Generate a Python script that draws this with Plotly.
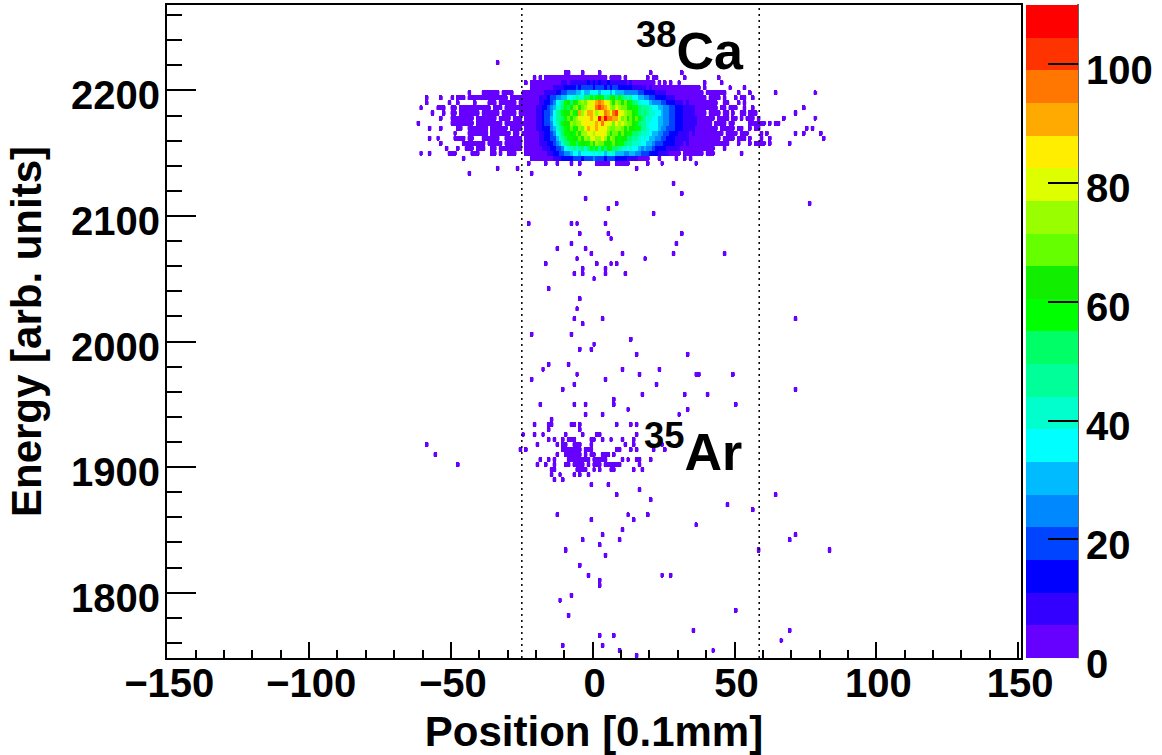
import plotly.graph_objects as go

FONT = "Liberation Sans"
X_TICKS = [-150, -100, -50, 0, 50, 100, 150]
BAR_TICKS = [0, 20, 40, 60, 80, 100]
X_FIRST, X_COUNT = -151, 303
E_FIRST, E_WIDTH, E_COUNT = 1748, 4, 130
Z_MAX = 110
BAND_COLORS = ["#6600ff", "#3300ff", "#0000ff", "#0044ff", "#0088ff", "#00bbff", "#00ffff",
               "#00ffcc", "#00ff99", "#00ff66", "#00ff00", "#11ee00", "#66ff00", "#99ff00",
               "#ddff00", "#ffee00", "#ffaa00", "#ff7700", "#ff3300", "#ff0000"]
CUT_LOW, CUT_HIGH = -25, 58.7

# Occupied bins at the lowest colour band: energy-bin index -> x bins ("a:b" = run)
LOW_BINS = {
    0: "15", 1: "9 42", 2: "-11 3", 3: "66", 4: "2 7", 5: "35 69", 8: "-9", 9: "50", 11: "-12",
    12: "-8", 14: "2", 15: "2", 16: "-2 24 27", 18: "-5", 20: "4", 21: "-10 58 83", 22: "2",
    23: "-4 9 69", 24: "3 71", 25: "10", 26: "36", 27: "-1 14", 28: "-13 12 19", 29: "56",
    30: "47", 31: "20", 32: "8 64", 33: "16", 34: "-1 5", 35: "-14 -11",
    36: "-15 -12 -7 -5 -2",
    37: "-15 -14 -6:-4 -3 0 2 6 7 14 17",
    38: "-48 -20 -17 -14 -10 -9 -7:-4 -2 0:2 4:9 16",
    39: "-19 -16 -14 -9:-2 0:4 10 12 15 16 20",
    40: "-56 -13 -10:-5 -3 -1 0 3:5 7",
    41: "-26 -24 -11:-5 -3:-1 8 9 13 15 21 25",
    42: "-59 -20 -13 -11 -10 -7 -6 -5 -1 11 14 24",
    43: "-16 -14 -11 -9 -8 -7 -1 0 3 6 10 14",
    44: "-25 -21 -18 -10 -4 1 2 15",
    45: "-16 -5", 46: "-21 -16 -15 -8 -7 -5 8 13 15", 47: "-15", 48: "-3 3 30", 49: "12 33",
    50: "-19 -7 -3 7 50", 51: "7", 52: "17 32 40", 53: "-11 71", 54: "-7 22", 55: "-22 4",
    56: "-6 16 36 37 49", 57: "-18 10 23", 58: "-16 -9", 60: "15 33", 61: "-5 -1", 62: "0",
    63: "13", 64: "-22 -8", 66: "-4", 67: "-7 3 71", 69: "-6", 71: "-5", 73: "-16", 75: "0",
    76: "-7 -4 4 11", 77: "-4 4", 78: "-17 1 6 8", 79: "-6 18", 80: "-1 10 28 46", 81: "-13 -3",
    82: "-8 29", 83: "6", 84: "-5 5 31", 86: "-23 -8 -6 4", 88: "21", 89: "5", 90: "8 76",
    91: "-3", 92: "31", 94: "28", 96: "-44 -22 -5", 97: "-34 -27 15",
    98: "-23 -17 -13 -8 -5 1:5 8:12 19 24 36",
    99: "-46 -22 -19:-16 -12:19 23 29 32 34",
    100: "-61 -58 -51:-49 -43:-41 -36 -35 -33 -30 -29 -28 -24:-22 -18:30 32:38 40:42 52",
    101: "-52 -48 -45:-43 -41:-39 -36 -35 -33:-31 -30:-28 -27 -26 -24:42 46",
    102: "-54 -46:-43 -42:-39 -37:-33 -31:-26 -24:47 51 55 57:60 62 69",
    103: "-58 -55 -49:-46 -44 -43 -39:-34 -31:-26 -24:44 46:49 51:53 55 59 62 81",
    104: "-49 -44:-38 -36:-30 -28:-27 -25:45 47:50 52:54 59 61 71 74 80",
    105: "-58 -54 -48 -47 -44:-38 -36:-31 -29:-26 -24:43 45:49 51 52 55 57 58 75 77",
    106: "-62 -50 -49 -48:-43 -41:-33 -31:41 43:46 48 49 55:60 62 64 65",
    107: "-54 -50:-43 -41:-35 -33:-30 -28:-26 -24:42 44:47 49 50 52 54:56 58 67 78",
    108: "-57 -53 -50 -49 -47:-41 -39:-34 -32:-28 -26:39 41:44 46 47 49 52 53 55:57 71",
    109: "-61 -55:-53 -50 -49 -47:-37 -35:-33 -31:39 40:43 45 46 48:50 53 56 74",
    110: "-59 -51 -48 -42 -37:-35 -33:-28 -26:39 40:43 46 47 51 53",
    111: "-59 -54 -50 -48:-46 -44:-40 -39:-34 -33:-31 -29:-25 -24:39 41:42 43 44 46 50 52 53 56",
    112: "-44 -39:-34 -32:-30 -29 -25:-23 -22:38 40:44 45 46 51 55 64 78",
    113: "-22 -20:32 33:37 39 48 53",
    114: "-24 -19 -17:21 23 25 27 30 39 45",
    115: "-21 -19 -17:-13 -12:-6 -5:-1 0:2 3 4 6 7 8 9 11 19 21 22 32 44",
    116: "-10 -9 -4 2 20 31",
    118: "-34",
}

# Core of the 38Ca peak: colour band per bin, base 20, first column is x = -22
CORE_FIRST_X = -22
CORE_BANDS = {
    114: "00000 00000 01101 11111 21212 11211 11110 10000",
    113: "00000 00011 11222 23233 33233 32323 32222 21111 10100",
    112: "00000 11112 23344 45565 56665 66656 55544 44433 22221 11100",
    111: "00011 12334 45566 78779 9a9ab a89ab 9a987 86655 44332 22211 10000",
    110: "00011 22346 78ab9 bacdc eefgh gfecb dcbcb a9876 66544 43322 21110 1000",
    109: "00112 23457 79a9b cdbcd eefhi hgfdc edccb baa98 88766 55443 32221 11100",
    108: "00112 33468 8abbc abgde ggfde fhgeh ifedc cba98 98776 65443 32221 11100",
    107: "00112 33568 89acb cdeef fgefj gjhhg gecdb cbca9 87766 55443 32221 11110",
    106: "00112 33467 9abbd cddef fefgf hfeec fdedc cba98 87666 55443 32221 11110",
    105: "00112 22457 89abc abdce gffgf efdcc ddcbc bbaa8 87666 54433 32221 11100",
    104: "00011 22346 79aab acbdd eedfe fecbc cbcba a9987 77655 44332 22111 10100",
    103: "00011 22335 789aa bbcbd cefdd fdbdc babb9 98876 76554 43322 21111 10000",
    102: "00011 12234 5789a a9abb acbdc cbbac baa98 87776 65543 33222 21110 10000",
    101: "00001 11223 34677 87897 9a9a8 a9ba9 98776 76654 54432 22211 11100",
    100: "00000 01122 33445 66566 66767 65767 55544 55443 33222 11110",
    99:  "00000 00011 12222 33323 33433 32333 22221 11100",
}
AR_PEAK_BAND = (40, -3, 1)

z = [[None] * X_COUNT for _ in range(E_COUNT)]
def band_value(band):
    return (band + 0.5) * Z_MAX / len(BAND_COLORS)
low_cells = set()
for row, text in LOW_BINS.items():
    for item in text.split():
        a, _, b = item.partition(":")
        for x in range(int(a), int(b or a) + 1):
            z[row][x - X_FIRST] = band_value(0)
            low_cells.add((row, x))
for row, text in CORE_BANDS.items():
    for i, ch in enumerate(text.replace(" ", "")):
        x = CORE_FIRST_X + i
        z[row][x - X_FIRST] = band_value(int(ch, 20))
        low_cells.discard((row, x))
z[AR_PEAK_BAND[0]][AR_PEAK_BAND[1] - X_FIRST] = band_value(AR_PEAK_BAND[2])

x_centers = [X_FIRST + i + 0.5 for i in range(X_COUNT)]
y_centers = [E_FIRST + (i + 0.5) * E_WIDTH for i in range(E_COUNT)]
E_TOP = E_FIRST + E_COUNT * E_WIDTH

n = len(BAND_COLORS)
colorscale = []
for i, c in enumerate(BAND_COLORS):
    colorscale += [[i / n, c], [(i + 1) / n, c]]

L, R, T, B = 167, 1021, 5, 657.7
W, H = 1162, 755
def fx(px):
    return (px - L) / (R - L)
def fy(py):
    return (B - py) / (B - T)

fig = go.Figure()
fig.add_trace(go.Heatmap(
    x=x_centers, y=y_centers, z=z, zmin=0, zmax=Z_MAX, colorscale=colorscale, hoverongaps=False,
    colorbar=dict(
        x=fx(1026), xanchor="left", xpad=0, y=0.5, yanchor="middle", ypad=0, len=1, lenmode="fraction",
        thickness=52, thicknessmode="pixels", outlinewidth=0, tickmode="array",
        tickvals=BAR_TICKS, ticks="inside", ticklen=30, tickwidth=1.5, tickcolor="black",
        showticklabels=False,
    ),
))
# The reference paints each low bin a little wider than its nominal width
cells = sorted(low_cells)
fig.add_trace(go.Scatter(
    x=[c[1] + 0.5 for c in cells],
    y=[E_FIRST + (c[0] + 0.5) * E_WIDTH for c in cells],
    mode="markers", showlegend=False, hoverinfo="skip",
    marker=dict(symbol="square", size=3.6, color=BAND_COLORS[0], line=dict(width=0)),
))
for cut in (CUT_LOW, CUT_HIGH):
    fig.add_trace(go.Scatter(x=[cut, cut], y=[E_FIRST, E_TOP], mode="lines", showlegend=False,
                             line=dict(color="black", width=1.5, dash="2px,4px"), hoverinfo="skip"))

axis_common = dict(showgrid=False, zeroline=False, showline=True, mirror=True, linecolor="black",
                   linewidth=2, ticks="inside", tickcolor="black", tickwidth=2,
                   tickfont=dict(family=FONT, size=40, color="black", weight=700))
annotations = [
    dict(text="<sup>38</sup>Ca", xref="paper", yref="paper", x=fx(690), y=fy(12), yanchor="top",
         showarrow=False, font=dict(family=FONT, size=52, color="black", weight=700)),
    dict(text="<sup>35</sup>Ar", xref="paper", yref="paper", x=fx(693), y=fy(483), yanchor="bottom",
         showarrow=False, font=dict(family=FONT, size=52, color="black", weight=700)),
]
for v in BAR_TICKS:
    annotations.append(dict(text=str(v), xref="paper", yref="paper", x=fx(1084), xanchor="left",
                            y=fy(658 - v * 5.945 + 6), yanchor="middle", showarrow=False,
                            font=dict(family=FONT, size=40, color="black", weight=700)))
fig.update_layout(
    width=W, height=H, margin=dict(l=L, r=W - R, t=T, b=H - B, pad=0, autoexpand=False),
    paper_bgcolor="white", plot_bgcolor="white", showlegend=False,
    xaxis=dict(range=[-150.1, 151], tickvals=X_TICKS, ticklen=16, automargin=False,
               ticklabelstandoff=-11, ticklabelshift=2,
               minor=dict(dtick=10, tick0=0, ticks="inside", ticklen=8, tickcolor="black", tickwidth=2),
               title=dict(text="Position [0.1mm]", standoff=14,
                          font=dict(family=FONT, size=42, color="black", weight=700)),
               **axis_common),
    yaxis=dict(range=[E_FIRST, E_TOP], tick0=1800, dtick=100, ticklen=29, automargin=False,
               ticklabelstandoff=-3, ticklabelshift=5,
               minor=dict(dtick=20, tick0=1800, ticks="inside", ticklen=15, tickcolor="black", tickwidth=2),
               title=dict(text="Energy [arb. units]", standoff=16,
                          font=dict(family=FONT, size=42, color="black", weight=700)),
               **axis_common),
    shapes=[dict(type="line", xref="paper", yref="paper", x0=fx(1078), x1=fx(1078), y0=fy(4), y1=fy(658),
                 line=dict(color="#333333", width=1.5))],
    annotations=annotations,
)
fig.write_html("out.html", post_script="document.body.style.margin='0';",
               config={"displayModeBar": False})
